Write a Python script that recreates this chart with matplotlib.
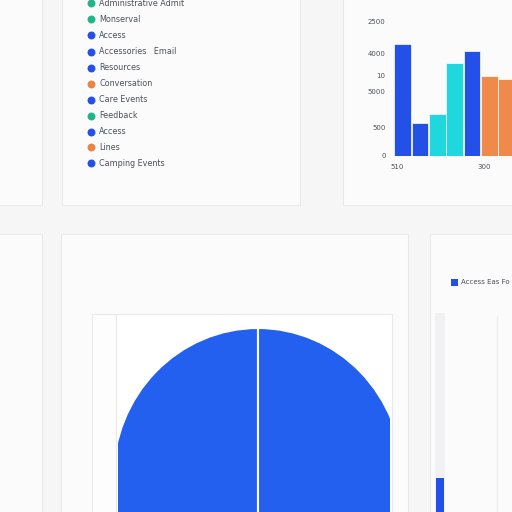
import matplotlib
matplotlib.use("Agg")
import matplotlib.pyplot as plt
from matplotlib.patches import Rectangle

# ---------------- data ----------------
legend_labels = ["Administrative Admit", "Monserval", "Access", "Accessories   Email",
                 "Resources", "Conversation", "Care Events", "Feedback", "Access",
                 "Lines", "Camping Events"]
legend_colors = ["#22b58a", "#22b58a", "#2350e6", "#2350e6", "#2350e6", "#ec8444",
                 "#2350e6", "#22b58a", "#2350e6", "#ec8444", "#2350e6"]

bar_values = [2240, 660, 840, 1860, 2100, 1600, 1540]
bar_colors = ["#2350e6", "#2350e6", "#1ed8de", "#1ed8de", "#2350e6", "#f08a4a", "#f08a4a"]
bar_ticks = [0, 580, 1280, 1620, 2060, 2700]
bar_tick_labels = ["0", "500", "5000", "10", "4000", "2500"]
bar_xlabels = ["510", "300"]

pie_values = [50, 50]
pie_colors = ["#2460f0", "#2460f0"]

small_bar_label = "Access Eas Fo"
small_bar_value = [17]

BG = "#f6f6f7"
PANEL = "#fbfbfb"
EDGE = "#e9e9ea"
TXT = "#4c5158"

fig = plt.figure(figsize=(5.12, 5.12), dpi=100)
fig.patch.set_facecolor(BG)

bg = fig.add_axes([0, 0, 1, 1])
bg.set_xlim(0, 512)
bg.set_ylim(512, 0)
bg.axis("off")

def panel(x0, y0, x1, y1, fc=PANEL, ec=EDGE):
    bg.add_patch(Rectangle((x0, y0), x1 - x0, y1 - y0, facecolor=fc,
                           edgecolor=ec, linewidth=0.8))

panel(-5, -5, 42, 205)
panel(62, -5, 300, 205)
panel(343, -5, 520, 205)
panel(-5, 234, 42, 520)
panel(61, 234, 408, 520)
panel(92, 314, 392, 520, fc="#fdfdfd")
panel(116, 314, 392, 520, fc="#ffffff")
panel(430, 234, 520, 520)

# legend list
ys = [3, 19, 35, 52, 68, 84, 100, 116, 132, 147, 163]
for y, lab, c in zip(ys, legend_labels, legend_colors):
    bg.scatter([91], [y], s=22, color=c, zorder=3)
    bg.text(99, y, lab, fontsize=5.8, color=TXT, va="center", ha="left")

# bar chart
axb = fig.add_axes([394 / 512, 1 - 156 / 512, 130 / 512, 146 / 512])
axb.set_xlim(-0.5, 7.0)
axb.set_ylim(0, 2920)
axb.bar(range(len(bar_values)), bar_values, width=0.95, color=bar_colors,
        edgecolor="white", linewidth=0.5)
axb.set_facecolor("none")
for s in axb.spines.values():
    s.set_visible(False)
axb.set_yticks(bar_ticks)
axb.set_yticklabels(bar_tick_labels, fontsize=5, color=TXT)
axb.set_xticks([-0.3, 4.7])
axb.set_xticklabels(bar_xlabels, fontsize=5, color=TXT)
axb.tick_params(length=0, pad=6)

# pie (large, clipped by its panel)
axp = fig.add_axes([118 / 512, 0, 272 / 512, 184 / 512])
axp.pie(pie_values, colors=pie_colors, startangle=90,
        wedgeprops=dict(edgecolor="white", linewidth=1.5, clip_on=True))
axp.set_aspect("auto")
axp.set_xlim(-140 / 145, 132 / 145)
axp.set_ylim(-34 / 150, 1.0)
axp.axis("off")

# bottom-right small legend and bar
bg.add_patch(Rectangle((451, 279), 7, 7, facecolor="#2350e6", edgecolor="none"))
bg.text(461, 282.5, small_bar_label, fontsize=5.0, color=TXT, va="center", ha="left")
bg.plot([497, 497], [316, 520], color="#ececee", lw=1)

axs = fig.add_axes([434 / 512, 0, 12 / 512, (512 - 313) / 512])
axs.set_xlim(-0.5, 0.5)
axs.set_ylim(0, 100)
axs.bar([0], [100], width=0.8, color="#f1f1f3")
axs.bar([0], small_bar_value, width=0.7, color="#2350e6")
axs.axis("off")

fig.savefig("out.png", dpi=100, facecolor=BG)
